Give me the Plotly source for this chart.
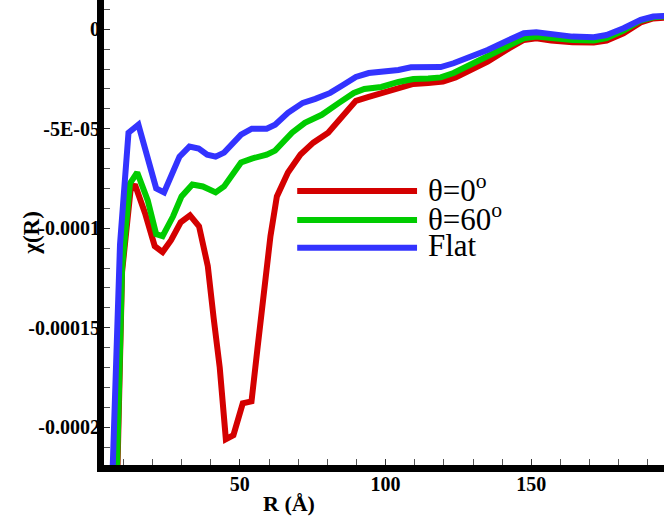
import plotly.graph_objects as go

# ---- data (R in Å, chi in units) ----
r_flat = [5.5, 8.9, 11.8, 15.2, 21.3, 24.0, 29.3, 32.7, 35.9, 38.8, 41.7, 44.6, 50.4, 54.1,
          59.2, 62.1, 66.5, 71.6, 75.9, 81.0, 85.4, 89.8, 94.2, 99.3, 104.4, 108.7, 113.1,
          118.9, 123.3, 127.7, 135.0, 142.3, 147.4, 151.7, 156.8, 164.1, 171.4, 175.8,
          181.6, 187.5, 191.8, 196.0]
chi_flat = [-26e-5, -10.8e-5, -5.2e-5, -4.8e-5, -8.0e-5, -8.2e-5, -6.4e-5, -5.9e-5, -6.0e-5,
            -6.3e-5, -6.4e-5, -6.2e-5, -5.3e-5, -5.0e-5, -5.0e-5, -4.8e-5, -4.2e-5, -3.7e-5,
            -3.5e-5, -3.2e-5, -2.8e-5, -2.4e-5, -2.2e-5, -2.16e-5, -2.05e-5, -1.91e-5,
            -1.93e-5, -1.9e-5, -1.71e-5, -1.46e-5, -1.04e-5, -0.54e-5, -0.2e-5, -0.15e-5,
            -0.25e-5, -0.37e-5, -0.4e-5, -0.29e-5, 0.05e-5, 0.47e-5, 0.64e-5, 0.67e-5]

r_60 = [7.2, 9.6, 12.3, 14.8, 18.4, 21.3, 23.5, 27.1, 30.0, 33.7, 37.3, 41.7, 44.6, 50.4,
        54.1, 59.2, 62.1, 67.9, 72.3, 78.1, 84.0, 89.1, 92.7, 98.5, 104.4, 109.5, 114.6,
        118.9, 123.3, 127.7, 135.0, 142.3, 147.4, 151.7, 156.8, 164.1, 171.4, 175.8,
        181.6, 187.5, 191.8, 196.0]
chi_60 = [-26e-5, -12.0e-5, -7.75e-5, -7.2e-5, -8.6e-5, -10.3e-5, -10.4e-5, -9.4e-5, -8.4e-5,
          -7.8e-5, -7.9e-5, -8.2e-5, -7.9e-5, -6.7e-5, -6.5e-5, -6.3e-5, -6.1e-5, -5.2e-5,
          -4.7e-5, -4.3e-5, -3.7e-5, -3.2e-5, -3.0e-5, -2.9e-5, -2.65e-5, -2.5e-5,
          -2.47e-5, -2.42e-5, -2.2e-5, -1.88e-5, -1.29e-5, -0.79e-5, -0.45e-5, -0.37e-5,
          -0.45e-5, -0.54e-5, -0.57e-5, -0.45e-5, -0.07e-5, 0.44e-5, 0.6e-5, 0.64e-5]

r_0 = [7.4, 9.6, 12.5, 14.0, 17.6, 20.8, 23.5, 26.4, 29.7, 32.9, 36.0, 39.0, 41.0, 43.1,
       45.2, 47.8, 51.0, 54.0, 56.0, 58.5, 60.5, 62.7, 66.5, 70.8, 75.2, 80.3, 85.4, 89.8,
       94.2, 99.3, 104.4, 109.5, 114.6, 119.7, 124.0, 129.1, 135.0, 142.3, 147.4, 151.7,
       156.8, 164.1, 171.4, 175.8, 181.6, 187.5, 191.8, 196.0]
chi_0 = [-26e-5, -12.2e-5, -8.1e-5, -7.8e-5, -9.3e-5, -10.9e-5, -11.2e-5, -10.6e-5, -9.7e-5,
         -9.35e-5, -9.9e-5, -11.9e-5, -14.5e-5, -17.0e-5, -20.6e-5, -20.4e-5, -18.8e-5,
         -18.7e-5, -16.1e-5, -12.8e-5, -10.4e-5, -8.4e-5, -7.2e-5, -6.3e-5, -5.7e-5,
         -5.2e-5, -4.4e-5, -3.6e-5, -3.4e-5, -3.2e-5, -3.0e-5, -2.75e-5, -2.7e-5, -2.63e-5,
         -2.42e-5, -2.05e-5, -1.63e-5, -0.96e-5, -0.54e-5, -0.45e-5, -0.57e-5, -0.65e-5,
         -0.67e-5, -0.57e-5, -0.2e-5, 0.34e-5, 0.54e-5, 0.59e-5]

series_names = ["θ=0<sup>o</sup>", "θ=60<sup>o</sup>", "Flat"]
series_colors = ["#d40000", "#00cc00", "#3333ff"]

y_tickvals = [0, -5e-5, -1e-4, -1.5e-4, -2e-4]
y_ticktext = ["0", "-5E-05", "-0.0001", "-0.00015", "-0.0002"]
x_tickvals = [50, 100, 150]
x_ticktext = ["50", "100", "150"]

fig = go.Figure()
for xs, ys, name, col in [(r_0, chi_0, series_names[0], series_colors[0]),
                          (r_60, chi_60, series_names[1], series_colors[1]),
                          (r_flat, chi_flat, series_names[2], series_colors[2])]:
    fig.add_trace(go.Scatter(x=xs, y=ys, mode="lines", name=name,
                             line=dict(color=col, width=6), showlegend=False))

# manual legend (long line samples)
leg_y = [0.589, 0.527, 0.467]
for i in range(3):
    fig.add_shape(type="line", xref="paper", yref="paper",
                  x0=0.345, x1=0.559, y0=leg_y[i], y1=leg_y[i],
                  line=dict(color=series_colors[i], width=6))
    fig.add_annotation(xref="paper", yref="paper", x=0.575, y=leg_y[i] + 0.006,
                       text=series_names[i], showarrow=False, xanchor="left",
                       yanchor="middle",
                       font=dict(family="Liberation Serif", size=31, color="black"))

fig.add_annotation(xref="paper", yref="paper", x=-0.13, y=0.5, text="χ(R)",
                   textangle=-90, showarrow=False, xanchor="center", yanchor="middle",
                   font=dict(family="Liberation Serif", size=23, color="black", weight="bold"))
fig.add_annotation(xref="paper", yref="paper", x=0.331, y=-0.083, text="R (Å)",
                   showarrow=False, xanchor="center", yanchor="middle",
                   font=dict(family="Liberation Serif", size=22, color="black", weight="bold"))

tickfont = dict(family="Liberation Serif", size=20, color="black", weight="bold")
fig.update_xaxes(range=[3.4, 195.5], tickmode="array", tickvals=x_tickvals,
                 ticktext=x_ticktext, ticks="inside", ticklen=6, tickwidth=1,
                 tickcolor="#333", showline=True, linewidth=7, linecolor="black",
                 showgrid=False, zeroline=False, tickfont=tickfont, ticklabelstandoff=-5,
                 minor=dict(dtick=10, tick0=0, ticks="inside", ticklen=6,
                            tickwidth=1, tickcolor="#555", showgrid=False))
fig.update_yaxes(range=[-2.19e-4, 1.47e-5], tickmode="array", tickvals=y_tickvals,
                 ticktext=y_ticktext, ticks="inside", ticklen=6, tickwidth=1,
                 tickcolor="#333", showline=True, linewidth=7, linecolor="black",
                 showgrid=False, zeroline=False, tickfont=tickfont, ticklabelstandoff=-7,
                 minor=dict(dtick=1e-5, tick0=0, ticks="inside", ticklen=6,
                            tickwidth=1, tickcolor="#555", showgrid=False))

fig.update_layout(width=664, height=519, margin=dict(l=104, r=0, t=0, b=54),
                  plot_bgcolor="white", paper_bgcolor="white", showlegend=False)

fig.write_html("out.html", config={"displayModeBar": False},
               post_script="document.body.style.margin='0px';")
